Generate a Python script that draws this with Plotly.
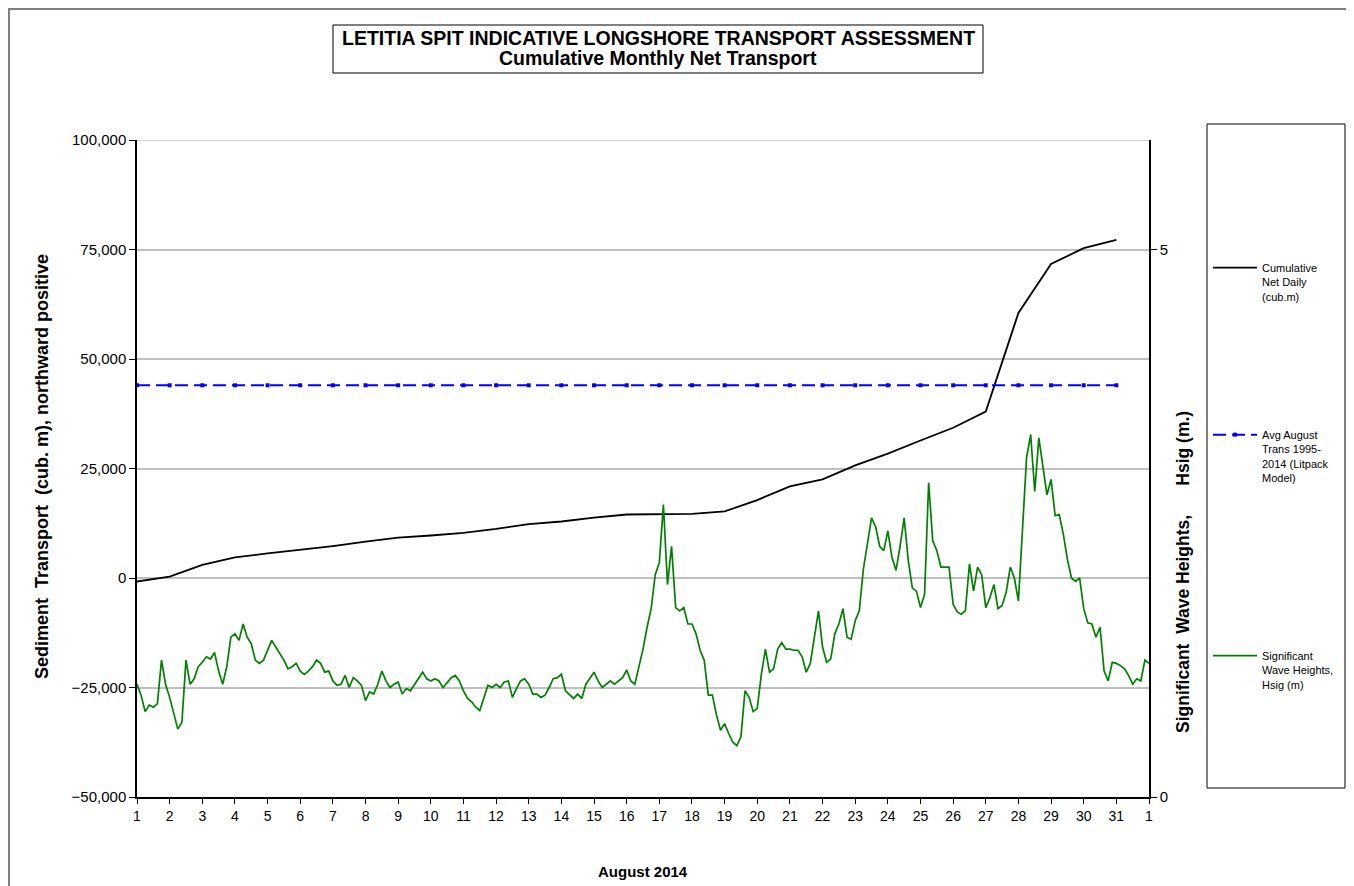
import plotly.graph_objects as go

# ---------------- data ----------------
day_numbers = list(range(1, 32))                       # 1..31 August 2014
x_tick_labels = [str(d) for d in range(1, 32)] + ["1"]  # ends on 1 September

cumulative_net = [-800, 300, 3000, 4700, 5600, 6400, 7300, 8300, 9200, 9700,
                  10300, 11200, 12300, 12900, 13800, 14500, 14550, 14650, 15200, 17800,
                  20900, 22500, 25700, 28400, 31400, 34300, 38000, 60500, 71700, 75300,
                  77200]

avg_august_value = 44000
avg_august = [avg_august_value for _ in day_numbers]

# significant wave height, 3-hourly, 1 Aug 00:00 -> 1 Sep 00:00
hsig_step_days = 0.125
hsig = [
    1.03, 0.93, 0.78, 0.84, 0.82, 0.85, 1.25, 1.03, 0.91, 0.76,
    0.62, 0.68, 1.25, 1.03, 1.08, 1.19, 1.23, 1.28, 1.26, 1.32,
    1.15, 1.03, 1.19, 1.46, 1.49, 1.43, 1.58, 1.46, 1.40, 1.25,
    1.22, 1.25, 1.34, 1.43, 1.37, 1.31, 1.25, 1.17, 1.19, 1.22,
    1.15, 1.12,
    1.15, 1.19, 1.25, 1.22, 1.14, 1.15, 1.06, 1.02, 1.03, 1.11,
    1.00, 1.09, 1.06, 1.02, 0.88, 0.96, 0.94, 1.03, 1.15, 1.06,
    1.00, 1.03, 1.05, 0.94, 0.99, 0.97, 1.03, 1.09, 1.14, 1.08,
    1.06, 1.08, 1.06, 1.00, 1.05, 1.09, 1.11, 1.06, 0.97, 0.90,
    0.87, 0.82, 0.79, 0.91, 1.02, 1.00, 1.03, 1.00, 1.05, 1.06,
    0.91, 0.99, 1.06, 1.08, 1.03, 0.94, 0.94, 0.91, 0.93, 1.00,
    1.08, 1.09, 1.12, 0.97, 0.93, 0.90, 0.94, 0.90, 1.03, 1.08,
    1.14, 1.06, 1.00, 1.03, 1.06, 1.03, 1.06, 1.09, 1.16, 1.06,
    1.03, 1.19, 1.35,
    1.55, 1.72, 2.03, 2.14, 2.67, 1.94, 2.29, 1.73, 1.70, 1.73,
    1.58, 1.58, 1.49, 1.34, 1.25, 0.93, 0.93, 0.75, 0.61, 0.67,
    0.58, 0.50, 0.47, 0.55, 0.97, 0.91, 0.78, 0.81, 1.12, 1.35,
    1.14, 1.17, 1.35, 1.41, 1.35, 1.35, 1.34, 1.34, 1.28, 1.14,
    1.22,
    1.46, 1.70, 1.37, 1.23, 1.26, 1.49, 1.58, 1.72, 1.46, 1.44,
    1.61, 1.70, 2.08, 2.31, 2.55, 2.47, 2.29, 2.25, 2.43, 2.19,
    2.07, 2.29, 2.55, 2.16, 1.91, 1.88, 1.73, 1.85, 2.87, 2.34,
    2.25, 2.10, 2.10, 2.10, 1.76, 1.69, 1.67, 1.70, 2.13, 1.88,
    2.10,
    2.03, 1.73, 1.82, 1.94, 1.72, 1.75, 1.87, 2.10, 2.00, 1.79,
    2.40, 3.10, 3.31, 2.79, 3.28, 3.01, 2.76, 2.90, 2.57, 2.58,
    2.40, 2.17, 2.00, 1.97, 2.00, 1.72, 1.59, 1.58, 1.46, 1.55,
    1.15, 1.06, 1.23, 1.22, 1.20, 1.17, 1.11, 1.03, 1.08, 1.06,
    1.25, 1.22,
]
hsig_x = [1 + i * hsig_step_days for i in range(len(hsig))]

left_ticks = [-50000, -25000, 0, 25000, 50000, 75000, 100000]
right_ticks = [0, 5]

# ---------------- figure ----------------
FONT = "Liberation Sans, Arial, sans-serif"
OFF = 8                      # page body margin of the html page
W, H = 1354, 886
L, T = 137 - OFF, 140 - OFF  # plot area at page x 137..1149, y 140..797
PW, PH = 1012, 657
R, B = W - L - PW, H - T - PH


def px(xp):
    """page pixel x -> paper coordinate"""
    return (xp - OFF - L) / PW


def py(yp):
    """page pixel y -> paper coordinate"""
    return (T + PH - (yp - OFF)) / PH


fig = go.Figure()
fig.add_trace(go.Scatter(
    x=day_numbers, y=cumulative_net, mode="lines",
    line=dict(color="black", width=1.8),
    name="Cumulative<br>Net Daily<br>(cub.m)", legend="legend"))
fig.add_trace(go.Scatter(
    x=day_numbers, y=avg_august, mode="lines+markers",
    line=dict(color="#0000ff", width=2, dash="13px,6px"),
    marker=dict(symbol="square", size=4, color="#0000ff"),
    name="Avg August<br>Trans 1995-<br>2014 (Litpack<br>Model)", legend="legend2"))
fig.add_trace(go.Scatter(
    x=hsig_x, y=hsig, mode="lines", yaxis="y2",
    line=dict(color="#008000", width=1.7),
    name="Significant<br>Wave Heights,<br>Hsig (m)", legend="legend3"))

legend_common = dict(xanchor="left", yanchor="top", bgcolor="rgba(0,0,0,0)",
                     borderwidth=0, font=dict(family=FONT, size=11, color="black"),
                     itemwidth=44, valign="top", tracegroupgap=0)

fig.update_layout(
    width=W, height=H,
    margin=dict(l=L, r=R, t=T, b=B, pad=0),
    paper_bgcolor="white", plot_bgcolor="white",
    font=dict(family=FONT, color="black"),
    showlegend=True,
    legend=dict(x=px(1208), y=py(254), **legend_common),
    legend2=dict(x=px(1208), y=py(421), **legend_common),
    legend3=dict(x=px(1208), y=py(642), **legend_common),
    xaxis=dict(range=[1, 32], tickvals=list(range(1, 33)), ticktext=x_tick_labels,
               ticks="outside", ticklen=5, tickcolor="black", tickwidth=1,
               showline=True, linecolor="black", linewidth=1.5,
               showgrid=False, zeroline=False,
               tickfont=dict(family=FONT, size=14, color="black")),
    yaxis=dict(range=[-50000, 100000], tickvals=left_ticks, tickformat=",",
               ticks="outside", ticklen=6, tickcolor="black",
               showline=True, linecolor="black", linewidth=1.5,
               showgrid=True, gridcolor="#c0c0c0", gridwidth=1.5, zeroline=False,
               tickfont=dict(family=FONT, size=15, color="black")),
    yaxis2=dict(range=[0, 6], tickvals=right_ticks, overlaying="y", side="right",
                ticks="outside", ticklen=6, tickcolor="black",
                showline=True, linecolor="black", linewidth=1.5,
                showgrid=False, zeroline=False,
                tickfont=dict(family=FONT, size=15, color="black")),
    shapes=[
        # outer chart border
        dict(type="rect", xref="paper", yref="paper",
             x0=px(9), x1=px(1348), y0=py(900), y1=py(9),
             line=dict(color="#808080", width=2), fillcolor="rgba(0,0,0,0)", layer="below"),
        # top gridline of the plot area (100,000)
        dict(type="line", xref="paper", yref="y", x0=0, x1=1, y0=100000, y1=100000,
             line=dict(color="#c0c0c0", width=1.5), layer="below"),
        # title box
        dict(type="rect", xref="paper", yref="paper",
             x0=px(333), x1=px(983), y0=py(73), y1=py(25),
             line=dict(color="black", width=1), fillcolor="rgba(0,0,0,0)"),
        # legend box
        dict(type="rect", xref="paper", yref="paper",
             x0=px(1207), x1=px(1345), y0=py(788), y1=py(124),
             line=dict(color="black", width=1), fillcolor="rgba(0,0,0,0)"),
    ],
    annotations=[
        dict(text="<b>LETITIA SPIT INDICATIVE LONGSHORE TRANSPORT ASSESSMENT</b>",
             xref="paper", yref="paper", x=px(658), y=py(38), showarrow=False,
             xanchor="center", yanchor="middle", font=dict(family=FONT, size=19.5)),
        dict(text="<b>Cumulative Monthly Net Transport</b>",
             xref="paper", yref="paper", x=px(658), y=py(58), showarrow=False,
             xanchor="center", yanchor="middle", font=dict(family=FONT, size=19.5)),
        dict(text="<b>Sediment  Transport  (cub. m), northward positive</b>",
             xref="paper", yref="paper", x=px(42), y=py(467), showarrow=False,
             textangle=-90, xanchor="center", yanchor="middle",
             font=dict(family=FONT, size=18)),
        dict(text="<b>Significant  Wave Heights,      Hsig (m.)</b>",
             xref="paper", yref="paper", x=px(1183), y=py(572), showarrow=False,
             textangle=-90, xanchor="center", yanchor="middle",
             font=dict(family=FONT, size=17.5)),
        dict(text="<b>August 2014</b>",
             xref="paper", yref="paper", x=px(643), y=py(871), showarrow=False,
             xanchor="center", yanchor="middle", font=dict(family=FONT, size=15)),
    ],
)

fig.write_html("out.html")
